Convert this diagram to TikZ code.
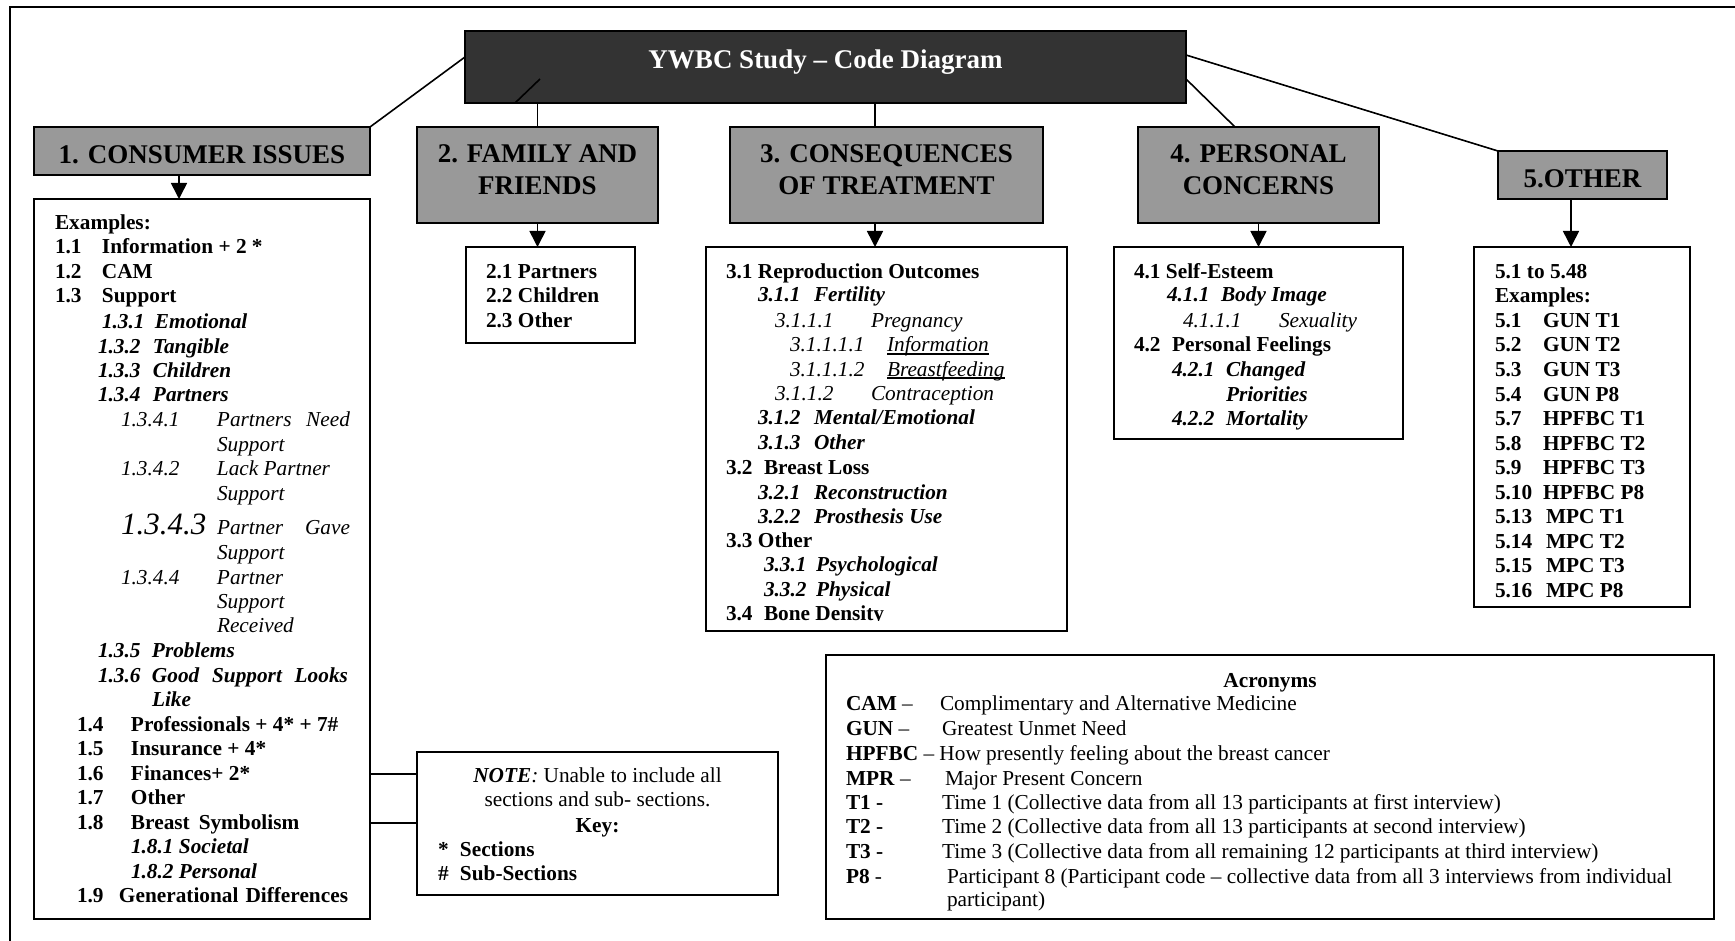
\documentclass[tikz,border=0pt]{standalone}
\usepackage{fontspec}
\setmainfont{Liberation Serif}
\usetikzlibrary{arrows.meta}

\definecolor{titlefill}{HTML}{333333}
\definecolor{headfill}{HTML}{999999}

% number column of fixed width
\newcommand\nb[2]{\makebox[#1pt][l]{#2}}
% underline just below the baseline
\newsavebox\ulbox
\newcommand\uln[1]{\sbox\ulbox{#1}\rlap{\rule[-2.6pt]{\wd\ulbox}{1.1pt}}\usebox\ulbox}

\tikzset{
  txt/.style={anchor=base west, inner sep=0pt, outer sep=0pt, font=\fontsize{21.3}{24.5}\selectfont},
  ctxt/.style={txt, anchor=base},
  box/.style={draw=black, line width=2pt, fill=white, inner sep=0pt, outer sep=0pt, anchor=north west},
  head/.style={box, fill=headfill},
  headtxt/.style={anchor=base, inner sep=0pt, outer sep=0pt, font=\fontsize{27}{32}\selectfont\bfseries},
  link/.style={line width=1.6pt},
  arr/.style={line width=1.6pt, -{Triangle[width=16pt,length=16pt]}},
}

\begin{document}
\begin{tikzpicture}[x=1pt,y=-1pt]
\useasboundingbox (0,0) rectangle (1735,941);

% page frame
\draw[line width=2pt] (10,941) -- (10,7) -- (1735,7);

% title
\node[box, fill=titlefill, minimum width=721pt, minimum height=72pt] (title) at (465,31) {};
\node[headtxt, text=white] (titletext) at (825.5,69) {YWBC Study – Code Diagram};
\draw[link] ([xshift=50pt]title.south west) -- ([xshift=75pt,yshift=24pt]title.south west);

% category headers
\node[head, minimum width=336pt, minimum height=48pt] (h1) at (34,127) {};
\node[head, minimum width=241pt, minimum height=96pt] (h2) at (417,127) {};
\node[head, minimum width=313pt, minimum height=96pt] (h3) at (730,127) {};
\node[head, minimum width=241pt, minimum height=96pt] (h4) at (1138,127) {};
\node[head, minimum width=169pt, minimum height=48pt] (h5) at (1498,151) {};
\node[headtxt] (h1t) at (202,164) {1. CONSUMER ISSUES};
\node[headtxt] (h2ta) at (537.5,163) {2. FAMILY AND};
\node[headtxt] (h2tb) at (537.5,195) {FRIENDS};
\node[headtxt] (h3ta) at (886.5,163) {3. CONSEQUENCES};
\node[headtxt] (h3tb) at (886.5,195) {OF TREATMENT};
\node[headtxt] (h4ta) at (1258.5,163) {4. PERSONAL};
\node[headtxt] (h4tb) at (1258.5,195) {CONCERNS};
\node[headtxt] (h5t) at (1582.5,188) {5.OTHER};

% content boxes
\node[box, minimum width=336pt, minimum height=720pt] (c1) at (34,199) {};
\node[box, minimum width=169pt, minimum height=96pt] (c2) at (466,247) {};
\node[box, minimum width=361pt, minimum height=384pt] (c3) at (706,247) {};
\node[box, minimum width=289pt, minimum height=192pt] (c4) at (1114,247) {};
\node[box, minimum width=216pt, minimum height=360pt] (c5) at (1474,247) {};
\node[box, minimum width=361pt, minimum height=143pt] (note) at (417,752) {};
\node[box, minimum width=888pt, minimum height=264pt] (acr) at (826,655) {};

% title to headers
\draw[link] ([yshift=-26pt]title.north west) -- (h1.north east);
\draw[link] (title.south -| h2.north) -- (h2.north);
\coordinate (h3top) at ([xshift=-11.5pt]h3.north);
\draw[link] (title.south -| h3top) -- (h3top);
\coordinate (h4top) at ([xshift=97pt]h4.north west);
\draw[link] ([yshift=-48pt]title.north east) -- (h4top);
\draw[link] ([yshift=-24pt]title.north east) -- (h5.north west);

% headers to content
\coordinate (a1) at ([xshift=-23pt]h1.south);
\draw[arr] (a1) -- (a1 |- c1.north);
\draw[arr] (h2.south) -- (h2.south |- c2.north);
\coordinate (a3) at ([xshift=-11.5pt]h3.south);
\draw[arr] (a3) -- (a3 |- c3.north);
\draw[arr] (h4.south) -- (c4.north);
\coordinate (a5) at ([xshift=-11.5pt]h5.south);
\draw[arr] (a5) -- (a5 |- c5.north);

% consumer issues to note
\coordinate (n1) at ([yshift=-22pt]note.north west);
\coordinate (n2) at ([yshift=-71pt]note.north west);
\draw[link] (n1 -| c1.east) -- (n1);
\draw[link] (n2 -| c1.east) -- (n2);

% 1. consumer issues
\node[txt] (l101) at (55,230) {\bfseries Examples:};
\node[txt] (l102) at (55,254) {\bfseries\nb{47}{1.1}Information + 2 *};
\node[txt] (l103) at (55,279) {\bfseries\nb{47}{1.2}CAM};
\node[txt] (l104) at (55,303) {\bfseries\nb{47}{1.3}Support};
\node[txt] (l105) at (102,328) {\bfseries\itshape\nb{53}{1.3.1}Emotional};
\node[txt] (l106) at (98,353) {\bfseries\itshape\nb{55}{1.3.2}Tangible};
\node[txt] (l107) at (98,377) {\bfseries\itshape\nb{55}{1.3.3}Children};
\node[txt] (l108) at (98,401) {\bfseries\itshape\nb{55}{1.3.4}Partners};
\node[txt] (l109) at (121,426) {\itshape\nb{96}{1.3.4.1}\makebox[133pt][s]{Partners Need}};
\node[txt] (l110) at (217,451) {\itshape Support};
\node[txt] (l111) at (121,475) {\itshape\nb{96}{1.3.4.2}Lack Partner};
\node[txt] (l112) at (217,500) {\itshape Support};
\node[txt] (l113) at (121,534) {\itshape\nb{96}{\fontsize{31}{31}\selectfont 1.3.4.3}\makebox[133pt][s]{Partner Gave}};
\node[txt] (l114) at (217,559) {\itshape Support};
\node[txt] (l115) at (121,584) {\itshape\nb{96}{1.3.4.4}Partner};
\node[txt] (l116) at (217,608) {\itshape Support};
\node[txt] (l117) at (217,632) {\itshape Received};
\node[txt] (l118) at (98,657) {\bfseries\itshape\nb{54}{1.3.5}Problems};
\node[txt] (l119) at (98,682) {\bfseries\itshape\nb{54}{1.3.6}\makebox[196pt][s]{Good Support Looks}};
\node[txt] (l120) at (152,706) {\bfseries\itshape Like};
\node[txt] (l121) at (77,731) {\bfseries\nb{54}{1.4}Professionals + 4* + 7\#};
\node[txt] (l122) at (77,755) {\bfseries\nb{54}{1.5}Insurance + 4*};
\node[txt] (l123) at (77,780) {\bfseries\nb{54}{1.6}Finances+ 2*};
\node[txt] (l124) at (77,804) {\bfseries\nb{54}{1.7}Other};
\node[txt] (l125) at (77,829) {\bfseries\nb{54}{1.8}Breast\hspace{9pt}Symbolism};
\node[txt] (l126) at (131,853) {\bfseries\itshape 1.8.1 Societal};
\node[txt] (l127) at (131,878) {\bfseries\itshape 1.8.2 Personal};
\node[txt] (l128) at (77,902) {\bfseries\nb{42}{1.9}\makebox[229pt][s]{Generational Differences}};

% 2. family and friends
\node[txt] (l201) at (486,279) {\bfseries 2.1 Partners};
\node[txt] (l202) at (486,303) {\bfseries 2.2 Children};
\node[txt] (l203) at (486,327) {\bfseries 2.3 Other};

% 3. consequences of treatment
\node[txt] (l301) at (726,279) {\bfseries 3.1 Reproduction Outcomes};
\node[txt] (l302) at (758,302) {\bfseries\itshape\nb{56}{3.1.1}Fertility};
\node[txt] (l303) at (775,327) {\itshape\nb{96}{3.1.1.1}Pregnancy};
\node[txt] (l304) at (790,352) {\itshape\nb{97}{3.1.1.1.1}\uln{Information}};
\node[txt] (l305) at (790,376) {\itshape\nb{97}{3.1.1.1.2}\uln{Breastfeeding}};
\node[txt] (l306) at (775,400) {\itshape\nb{96}{3.1.1.2}Contraception};
\node[txt] (l307) at (758,424) {\bfseries\itshape\nb{56}{3.1.2}Mental/Emotional};
\node[txt] (l308) at (758,449) {\bfseries\itshape\nb{56}{3.1.3}Other};
\node[txt] (l309) at (726,474) {\bfseries\nb{38}{3.2}Breast Loss};
\node[txt] (l310) at (758,499) {\bfseries\itshape\nb{56}{3.2.1}Reconstruction};
\node[txt] (l311) at (758,523) {\bfseries\itshape\nb{56}{3.2.2}Prosthesis Use};
\node[txt] (l312) at (726,547) {\bfseries 3.3 Other};
\node[txt] (l313) at (764,571) {\bfseries\itshape\nb{52}{3.3.1}Psychological};
\node[txt] (l314) at (764,596) {\bfseries\itshape\nb{52}{3.3.2}Physical};
\begin{scope}
  % the last line runs past the bottom of its frame
  \clip (706,600) rectangle (1067,620.8);
  \node[txt] (l315) at (726,620) {\bfseries\nb{38}{3.4}Bone Density};
\end{scope}

% 4. personal concerns
\node[txt] (l401) at (1134,279) {\bfseries 4.1 Self-Esteem};
\node[txt] (l402) at (1167,302) {\bfseries\itshape\nb{54}{4.1.1}Body Image};
\node[txt] (l403) at (1183,327) {\itshape\nb{96}{4.1.1.1}Sexuality};
\node[txt] (l404) at (1134,352) {\bfseries\nb{38}{4.2}Personal Feelings};
\node[txt] (l405) at (1172,376) {\bfseries\itshape\nb{54}{4.2.1}Changed};
\node[txt] (l406) at (1226,401) {\bfseries\itshape Priorities};
\node[txt] (l407) at (1172,425) {\bfseries\itshape\nb{54}{4.2.2}Mortality};

% 5. other
\node[txt] (l501) at (1495,279) {\bfseries 5.1 to 5.48};
\node[txt] (l502) at (1495,303) {\bfseries Examples:};
\node[txt] (l503) at (1495,327) {\bfseries\nb{48}{5.1}GUN T1};
\node[txt] (l504) at (1495,352) {\bfseries\nb{48}{5.2}GUN T2};
\node[txt] (l505) at (1495,376) {\bfseries\nb{48}{5.3}GUN T3};
\node[txt] (l506) at (1495,401) {\bfseries\nb{48}{5.4}GUN P8};
\node[txt] (l507) at (1495,425) {\bfseries\nb{48}{5.7}HPFBC T1};
\node[txt] (l508) at (1495,450) {\bfseries\nb{48}{5.8}HPFBC T2};
\node[txt] (l509) at (1495,474) {\bfseries\nb{48}{5.9}HPFBC T3};
\node[txt] (l510) at (1495,499) {\bfseries\nb{48}{5.10}HPFBC P8};
\node[txt] (l511) at (1495,523) {\bfseries\nb{51}{5.13}MPC T1};
\node[txt] (l512) at (1495,548) {\bfseries\nb{51}{5.14}MPC T2};
\node[txt] (l513) at (1495,572) {\bfseries\nb{51}{5.15}MPC T3};
\node[txt] (l514) at (1495,597) {\bfseries\nb{51}{5.16}MPC P8};

% note and key
\node[ctxt] (k1) at (597.5,782) {\textbf{\textit{NOTE}}\textit{:} Unable to include all};
\node[ctxt] (k2) at (597.5,806) {sections and sub- sections.};
\node[ctxt] (k3) at (597.5,832) {\bfseries Key:};
\node[txt] (k4) at (438,856) {\bfseries\nb{22}{*}Sections};
\node[txt] (k5) at (438,880) {\bfseries\nb{22}{\#}Sub-Sections};

% acronyms
\node[ctxt] (q0) at (1270,687) {\bfseries Acronyms};
\node[txt] (q1) at (846,710) {\textbf{CAM} –};
\node[txt] (q2) at (846,735) {\textbf{GUN} –};
\node[txt] (q3) at (846,760) {\textbf{HPFBC} – How presently feeling about the breast cancer};
\node[txt] (q4) at (846,785) {\textbf{MPR} –};
\node[txt] (q5) at (846,809) {\textbf{T1 -}};
\node[txt] (q6) at (846,833) {\textbf{T2 -}};
\node[txt] (q7) at (846,858) {\textbf{T3 -}};
\node[txt] (q8) at (846,883) {\textbf{P8} -};
\node[txt] (d1) at (940,710) {Complimentary and Alternative Medicine};
\node[txt] (d2) at (942,735) {Greatest Unmet Need};
\node[txt] (d4) at (945,785) {Major Present Concern};
\node[txt] (d5) at (942,809) {Time 1 (Collective data from all 13 participants at first interview)};
\node[txt] (d6) at (942,833) {Time 2 (Collective data from all 13 participants at second interview)};
\node[txt] (d7) at (942,858) {Time 3 (Collective data from all remaining 12 participants at third interview)};
\node[txt] (d8) at (947,883) {Participant 8 (Participant code – collective data from all 3 interviews from individual};
\node[txt] (d9) at (947,906) {participant)};
\end{tikzpicture}
\end{document}
